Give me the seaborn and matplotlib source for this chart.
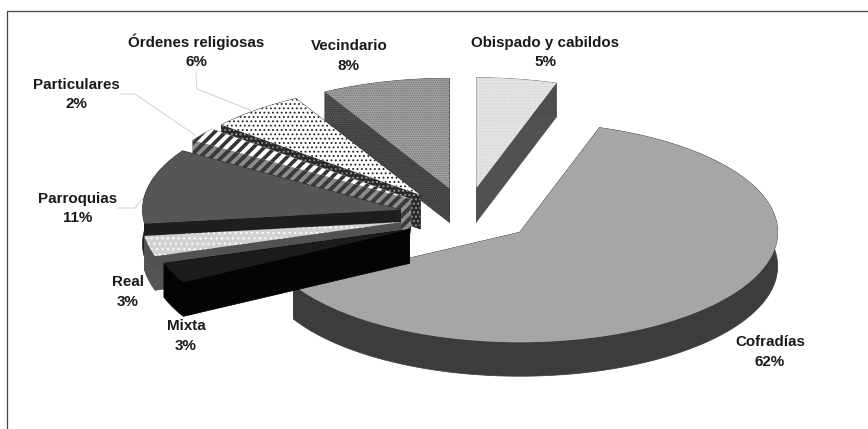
import numpy as np
import matplotlib
matplotlib.use("Agg")
import matplotlib.pyplot as plt
from matplotlib.patches import Polygon
from matplotlib.transforms import Affine2D
import seaborn as sns

# Share of each owner group, clockwise from twelve o'clock
categories = ["Obispado y cabildos", "Cofradías", "Mixta", "Real", "Parroquias",
              "Particulares", "Órdenes religiosas", "Vecindario"]
shares = [5, 62, 3, 3, 11, 2, 6, 8]

top_colors = ["#ffffff", "#a6a6a6", "#1c1c1c", "#d2d2d2", "#565656", "#ffffff", "#ffffff", "#a8a8a8"]
top_hatch_colors = ["#c0c0c0", "#a6a6a6", "#1c1c1c", "#ffffff", "#565656", "#333333", "#222222", "#707070"]
top_hatches = ["." * 14, None, None, "." * 4, None, "////", "." * 5, "." * 10]
side_colors = ["#565656", "#3c3c3c", "#040404", "#5a5a5a", "#1e1e1e", "#8c8c8c", "#2a2a2a", "#3c3c3c"]
side_hatch_colors = ["#4a4a4a", "#3c3c3c", "#040404", "#4e4e4e", "#1e1e1e", "#3a3a3a", "#8a8a8a", "#5a5a5a"]
side_hatches = ["." * 12, None, None, "." * 12, None, "////", "." * 5, "." * 10]
stripe_slices = {5}
# Back-to-front painting order of the slices
paint_order = [7, 0, 6, 5, 4, 3, 1, 2]
# Small per-slice shifts of the cut-out centre, in pixels
slice_shift = {1: (2, -2), 2: (5, 2), 5: (-1, 0), 6: (-3, 1)}

# Label centres in pixels from the top-left corner: name line, then percent line
label_x = [545, 770, 186, 128, 78, 76, 196, 349]
label_y = [43, 342, 326, 282, 199, 85, 42, 46]
leader_paths = {
    "Órdenes religiosas": ([196, 197, 250], [73, 89, 110]),
    "Particulares": ([121, 135, 195], [94, 94, 135]),
    "Parroquias": ([118, 135, 146], [208, 208, 195]),
}

W, H, DPI = 868, 429, 130
CX, CY, RX, RY = 466, 216, 258, 110
DEPTH = 34 / RY
EXPLODE = 0.26

sns.set_theme(style="white")
plt.rcParams["font.family"] = ["Liberation Sans", "DejaVu Sans"]
plt.rcParams["hatch.linewidth"] = 0.6

fig = plt.figure(figsize=(W / DPI, H / DPI), dpi=DPI, facecolor="white")
ax = fig.add_axes([0, 0, 1, 1])
wedges, _ = ax.pie(shares, explode=[EXPLODE] * len(shares), startangle=90, counterclock=False,
                   colors=top_colors, radius=1, wedgeprops={"linewidth": 0})
ax.set_aspect("auto")
ax.set_xlim(-CX / RX, (W - CX) / RX)
ax.set_ylim((CY - H) / RY, CY / RY)
ax.axis("off")


def thicken_stripes(patch):
    """Give the diagonal stripes a heavier line than the dot fills."""
    if hasattr(patch, "set_hatch_linewidth"):
        patch.set_hatch_linewidth(2.0)


for rank, idx in enumerate(paint_order):
    w = wedges[idx]
    base = 10 + rank * 2
    dx, dy = slice_shift.get(idx, (0, 0))
    w.set_center((w.center[0] + dx / RX, w.center[1] - dy / RY))
    w.set_zorder(base + 1)
    if top_hatches[idx]:
        w.set_hatch(top_hatches[idx])
        w.set_edgecolor(top_hatch_colors[idx])
        w.set_linewidth(0)
        if idx in stripe_slices:
            thicken_stripes(w)

    # Extrude the rim and both cut faces straight down
    cx, cy = w.center
    t = np.radians(np.linspace(w.theta1, w.theta2, 120))
    rim = np.column_stack([cx + w.r * np.cos(t), cy + w.r * np.sin(t)])
    drop = np.array([0, -DEPTH])
    apex = np.array([cx, cy])
    faces = [
        np.vstack([rim, (rim + drop)[::-1]]),
        np.array([apex, rim[0], rim[0] + drop, apex + drop]),
        np.array([apex, rim[-1], rim[-1] + drop, apex + drop]),
    ]
    for face in faces:
        ax.add_patch(Polygon(face, closed=True, facecolor=side_colors[idx], edgecolor=side_colors[idx],
                             linewidth=0.4, zorder=base))
    for face in faces:
        if side_hatches[idx]:
            overlay = Polygon(face, closed=True, facecolor="none", edgecolor=side_hatch_colors[idx],
                              hatch=side_hatches[idx], linewidth=0, zorder=base)
            if idx in stripe_slices:
                thicken_stripes(overlay)
            ax.add_patch(overlay)

px = Affine2D().scale(1 / W, -1 / H).translate(0, 1) + fig.transFigure

for name, (xs, ys) in leader_paths.items():
    ax.plot(xs, ys, color="#d4d4d4", lw=0.6, transform=px, zorder=5, clip_on=False)

for name, share, x, y in zip(categories, shares, label_x, label_y):
    for text, yy in ((name, y), (f"{share}%", y + 19.5)):
        ax.text(x, yy, text, transform=px, ha="center", va="center", fontsize=8.4,
                fontweight="bold", color="#1a1a1a", zorder=50)

# Frame shows only along the top and left edges
ax.plot([7, 7], [429, 11], color="#444444", lw=0.7, transform=px, clip_on=False, zorder=60)
ax.plot([7, 868], [11, 11], color="#444444", lw=0.7, transform=px, clip_on=False, zorder=60)

fig.savefig("out.png", dpi=DPI, facecolor="white")
